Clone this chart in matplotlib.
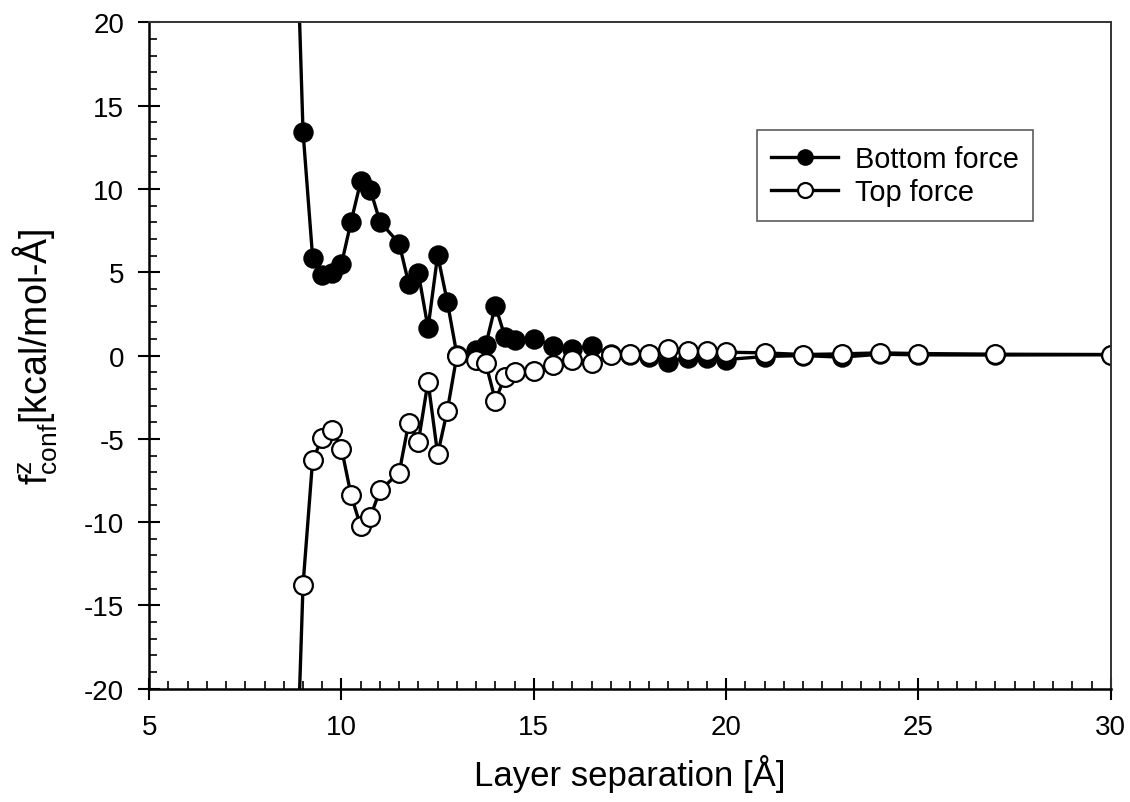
import matplotlib.pyplot as plt
from matplotlib.ticker import MultipleLocator

plt.rcParams['font.family'] = ['Liberation Sans', 'DejaVu Sans']
plt.rcParams['mathtext.fontset'] = 'custom'
plt.rcParams['mathtext.rm'] = 'Liberation Sans'
plt.rcParams['mathtext.it'] = 'Liberation Sans'
plt.rcParams['axes.unicode_minus'] = False

# layer separation [A]
sep = [8.75, 9.0, 9.25, 9.5, 9.75, 10.0, 10.25, 10.5, 10.75, 11.0, 11.5,
       11.75, 12.0, 12.25, 12.5, 12.75, 13.0, 13.5, 13.75, 14.0, 14.25,
       14.5, 15.0, 15.5, 16.0, 16.5, 17.0, 17.5, 18.0, 18.5, 19.0, 19.5,
       20.0, 21.0, 22.0, 23.0, 24.0, 25.0, 27.0, 30.0]

bottom_force = [32.0, 13.44, 5.88, 4.84, 4.94, 5.5, 8.04, 10.45, 9.94, 8.04,
                6.72, 4.3, 4.94, 1.64, 6.02, 3.24, 0.05, 0.34, 0.62, 3.0,
                1.12, 0.92, 1.02, 0.6, 0.42, 0.55, 0.1, 0.02, -0.08, -0.36,
                -0.14, -0.16, -0.24, -0.06, 0.0, -0.1, 0.08, 0.04, 0.03, 0.05]

top_force = [-31.5, -13.78, -6.26, -4.96, -4.44, -5.58, -8.38, -10.26, -9.68,
             -8.1, -7.02, -4.02, -5.16, -1.56, -5.92, -3.32, 0.0, -0.26,
             -0.46, -2.7, -1.26, -0.96, -0.94, -0.56, -0.26, -0.46, 0.04,
             0.12, 0.12, 0.38, 0.3, 0.28, 0.2, 0.16, 0.06, 0.1, 0.16, 0.12,
             0.08, 0.06]

fig = plt.figure(figsize=(11.3, 8.03), dpi=100)
ax = fig.add_axes([0.132, 0.141, 0.851, 0.830])

ax.plot(sep, bottom_force, '-o', color='black', lw=2.4, ms=13.5,
        mfc='black', mec='black', mew=1.2, label='Bottom force')
ax.plot(sep, top_force, '-o', color='black', lw=2.4, ms=13.5,
        mfc='white', mec='black', mew=1.6, label='Top force')

ax.set_xlim(5, 30)
ax.set_ylim(-20, 20)
ax.xaxis.set_major_locator(MultipleLocator(5))
ax.xaxis.set_minor_locator(MultipleLocator(0.5))
ax.yaxis.set_major_locator(MultipleLocator(5))
ax.yaxis.set_minor_locator(MultipleLocator(1))

ax.tick_params(which='major', direction='inout', length=16, width=1.5,
               labelsize=20, top=False, right=False)
ax.tick_params(which='minor', direction='in', length=5.5, width=1.2,
               top=False, right=False)
ax.tick_params(axis='y', which='major', pad=10)
ax.tick_params(axis='x', which='major', pad=10)

for side in ['left', 'bottom']:
    ax.spines[side].set_linewidth(1.8)
for side in ['top', 'right']:
    ax.spines[side].set_linewidth(1.4)
    ax.spines[side].set_color('#333333')

ax.set_xlabel('Layer separation [Å]', fontsize=25, labelpad=10)
ax.set_ylabel(r'$\mathregular{f^{z}_{conf}}$[kcal/mol-Å]', fontsize=27,
              labelpad=17)

leg = ax.legend(loc='lower left', bbox_to_anchor=(0.632, 0.702),
                fontsize=20.8, frameon=True, fancybox=False, markerscale=0.8,
                handlelength=2.3, borderpad=0.5, labelspacing=0.2,
                handletextpad=0.6, borderaxespad=0)
leg.get_frame().set_edgecolor('#333333')
leg.get_frame().set_linewidth(1.2)

fig.savefig('out.png', dpi=100)
